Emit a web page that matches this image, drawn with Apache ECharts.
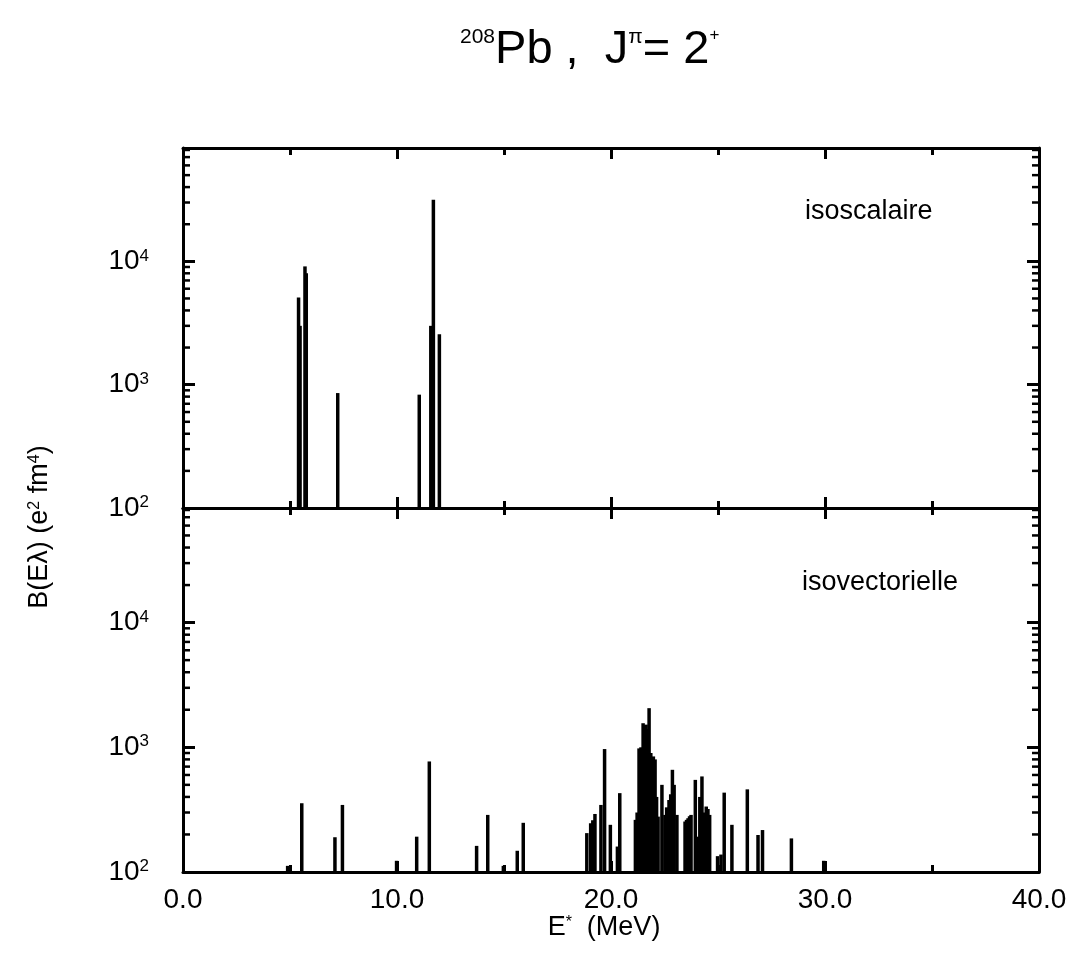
<!DOCTYPE html>
<html>
<head>
<meta charset="utf-8">
<script src="https://cdn.jsdelivr.net/npm/echarts@6/dist/echarts.min.js"></script>
<style>
html, body { margin: 0; padding: 0; background: #fff; }
#main { width: 1075px; height: 956px; }
</style>
</head>
<body>
<div id="main"></div>
<script>
// isoscalaire strengths (top panel)
var isoE = [5.40, 5.47, 5.70, 5.76, 7.23, 11.04, 11.58, 11.70, 11.98];
var isoB = [5100, 3000, 9100, 8000, 855, 830, 3000, 31600, 2560];

// isovectorielle strengths (bottom panel)
var ivE = [4.89, 5.55, 7.10, 7.45, 9.98, 10.92, 11.51, 13.72, 14.24, 14.97, 15.62, 15.90,
    18.87, 19.05, 19.15, 19.25, 19.53, 19.70, 19.97, 20.30, 20.41,
    21.14, 21.22, 21.31, 21.40, 21.50, 21.57, 21.64, 21.71, 21.78, 21.86, 21.98, 22.06, 22.13, 22.20,
    22.38, 22.52, 22.60, 22.71, 22.79, 22.87, 22.95, 23.08, 23.46, 23.53, 23.60, 23.67, 23.74,
    23.94, 24.07, 24.15, 24.25, 24.35, 24.45, 24.53, 24.61,
    24.98, 25.14, 25.29, 25.65, 26.37, 26.87, 27.08, 28.43, 29.94];
var ivB = [112, 356, 190, 345, 123, 192, 770, 162, 287, 112, 148, 248,
    205, 246, 260, 292, 345, 968, 239, 160, 429,
    262, 300, 980, 1000, 1560, 1500, 1520, 1400, 2060, 900, 845, 800, 400, 278,
    500, 287, 330, 378, 420, 660, 500, 287, 254, 262, 270, 280, 287,
    548, 192, 400, 584, 300, 335, 320, 287,
    134, 138, 433, 239, 460, 198, 217, 186, 123];

var xMin = 0, xMax = 40, xStep = 10;
var yMin = 100, yMax = 83000;

var font = "'Liberation Sans', Arial, sans-serif";
var myChart = echarts.init(document.getElementById('main'));

function pairs(xs, ys) {
    var out = [];
    for (var i = 0; i < xs.length; i++) out.push([xs[i], ys[i]]);
    return out;
}

// minor ticks of the log axes: 2..9 in each decade
var minorVals = [];
for (var d = yMin; d < yMax; d *= 10) {
    for (var k = 2; k <= 9; k++) {
        if (d * k < yMax) minorVals.push(d * k);
    }
}

function stick(params, api) {
    var top = api.coord([api.value(0), api.value(1)]);
    var base = api.coord([api.value(0), yMin]);
    return {
        type: 'line',
        shape: { x1: top[0], y1: top[1], x2: base[0], y2: base[1] },
        style: { stroke: '#000', lineWidth: 3.5 }
    };
}

function minorTick(params, api) {
    var v = api.value(0);
    var l = api.coord([xMin, v]);
    var r = api.coord([xMax, v]);
    return {
        type: 'group',
        children: [
            { type: 'line', shape: { x1: l[0], y1: l[1], x2: l[0] + 7, y2: l[1] }, style: { stroke: '#000', lineWidth: 2.5 } },
            { type: 'line', shape: { x1: r[0] - 7, y1: r[1], x2: r[0], y2: r[1] }, style: { stroke: '#000', lineWidth: 2.5 } }
        ]
    };
}

function yLabel(v) {
    var e = Math.round(Math.log10(v));
    if (Math.abs(Math.pow(10, e) - v) > 1e-6 * v) return '';
    return '{b|10}{s|' + e + '}';
}

var axisLine = { show: true, onZero: false, lineStyle: { color: '#000', width: 3 } };
var supRich = {
    b: { fontSize: 28, fontFamily: font, color: '#000' },
    s: { fontSize: 17, fontFamily: font, color: '#000', verticalAlign: 'top' }
};

function xAxis(grid, pos, labels) {
    return {
        type: 'value', gridIndex: grid, position: pos, min: xMin, max: xMax, interval: xStep,
        axisLine: axisLine,
        axisTick: { show: true, inside: true, length: 11, lineStyle: { color: '#000', width: 3 } },
        minorTick: { show: true, splitNumber: 2, length: 7, lineStyle: { color: '#000', width: 3 } },
        splitLine: { show: false },
        axisLabel: {
            show: labels, margin: 14, color: '#000', fontSize: 28, fontFamily: font,
            formatter: function (v) { return v.toFixed(1); }
        }
    };
}

function yAxis(grid, pos, labels) {
    return {
        type: 'log', logBase: 10, gridIndex: grid, position: pos, min: yMin, max: yMax,
        axisLine: axisLine,
        axisTick: { show: true, inside: true, length: 12, lineStyle: { color: '#000', width: 3 } },
        splitLine: { show: false },
        axisLabel: { show: labels, margin: 34, formatter: yLabel, rich: supRich }
    };
}

option = {
    backgroundColor: '#fff',
    animation: false,
    grid: [
        { left: 183, right: 36, top: 148, height: 360 },
        { left: 183, right: 36, top: 508, height: 364 }
    ],
    xAxis: [
        xAxis(0, 'bottom', false),
        xAxis(0, 'top', false),
        xAxis(1, 'bottom', true),
        xAxis(1, 'top', false)
    ],
    yAxis: [
        yAxis(0, 'left', true),
        yAxis(0, 'right', false),
        yAxis(1, 'left', true),
        yAxis(1, 'right', false)
    ],
    graphic: [
        {
            type: 'text', left: 460, top: 27,
            style: {
                text: '{s|208}{m|Pb ,  J}{s|\u03c0}{m|= 2}{p|+}',
                rich: {
                    m: { fontSize: 47, fontFamily: font, color: '#000', verticalAlign: 'bottom' },
                    s: { fontSize: 21, fontFamily: font, color: '#000', verticalAlign: 'top' },
                    p: { fontSize: 17, fontFamily: font, color: '#000', verticalAlign: 'top' }
                }
            }
        },
        {
            type: 'text', x: 40, y: 527, rotation: Math.PI / 2,
            style: {
                text: '{m|B(E\u03bb) (e}{s|2}{m| fm}{s|4}{m|)}',
                align: 'center', verticalAlign: 'middle',
                rich: {
                    m: { fontSize: 27, fontFamily: font, color: '#000', verticalAlign: 'bottom' },
                    s: { fontSize: 16, fontFamily: font, color: '#000', verticalAlign: 'top' }
                }
            }
        },
        {
            type: 'text', x: 604, y: 928,
            style: {
                text: '{m|E}{s|*}{m|  (MeV)}',
                align: 'center', verticalAlign: 'middle',
                rich: {
                    m: { fontSize: 27, fontFamily: font, color: '#000', verticalAlign: 'bottom' },
                    s: { fontSize: 16, fontFamily: font, color: '#000', verticalAlign: 'top' }
                }
            }
        },
        {
            type: 'text', x: 805, y: 212,
            style: { text: 'isoscalaire', fontSize: 27, fontFamily: font, fill: '#000', verticalAlign: 'middle' }
        },
        {
            type: 'text', x: 802, y: 583,
            style: { text: 'isovectorielle', fontSize: 27, fontFamily: font, fill: '#000', verticalAlign: 'middle' }
        }
    ],
    series: [
        {
            type: 'custom', name: 'isoscalaire', xAxisIndex: 0, yAxisIndex: 0,
            renderItem: stick, data: pairs(isoE, isoB), silent: true
        },
        {
            type: 'custom', name: 'isovectorielle', xAxisIndex: 2, yAxisIndex: 2,
            renderItem: stick, data: pairs(ivE, ivB), silent: true
        },
        {
            type: 'custom', xAxisIndex: 0, yAxisIndex: 0, renderItem: minorTick,
            dimensions: ['v'], encode: { y: 'v' }, data: minorVals, silent: true
        },
        {
            type: 'custom', xAxisIndex: 2, yAxisIndex: 2, renderItem: minorTick,
            dimensions: ['v'], encode: { y: 'v' }, data: minorVals, silent: true
        }
    ]
};
myChart.setOption(option);
</script>
</body>
</html>
